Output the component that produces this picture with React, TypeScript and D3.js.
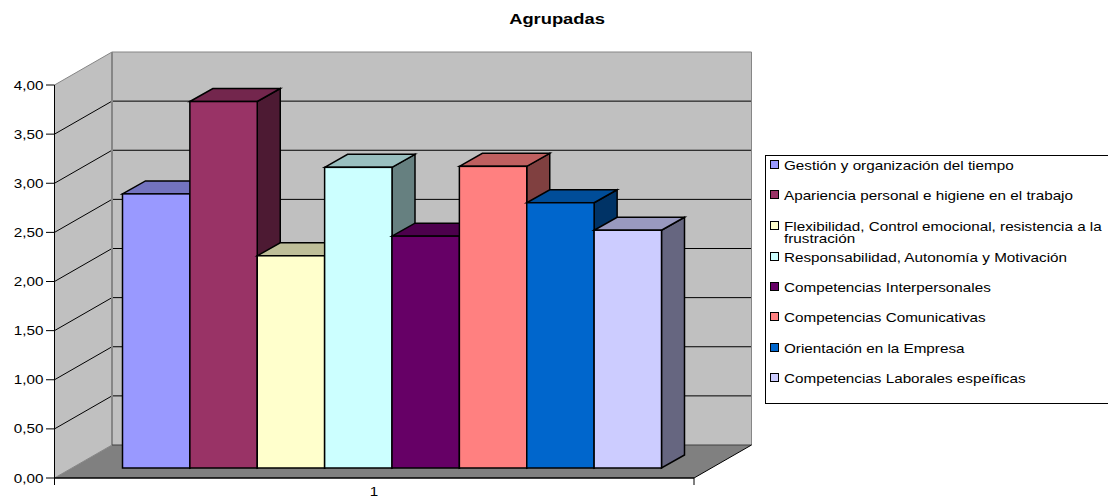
import React from "react";
import * as d3 from "d3";

const seriesNames = [
  "Gestión y organización del tiempo",
  "Apariencia personal e higiene en el trabajo",
  "Flexibilidad, Control emocional, resistencia a la|frustración",
  "Responsabilidad, Autonomía y Motivación",
  "Competencias Interpersonales",
  "Competencias Comunicativas",
  "Orientación en la Empresa",
  "Competencias Laborales espeíficas",
];
const seriesValues = [2.79, 3.73, 2.16, 3.06, 2.36, 3.07, 2.7, 2.42];
const seriesColors = ["#9999ff", "#993366", "#ffffcc", "#ccffff", "#660066", "#ff8080", "#0066cc", "#ccccff"];
const yTicks = [0, 0.5, 1, 1.5, 2, 2.5, 3, 3.5, 4];
const categoryLabel = "1";
const chartTitle = "Agrupadas";
const legendRows = [165, 195, 226, 257, 287, 317, 348, 378];

const FONT = "'Liberation Sans', Arial, sans-serif";
const WALL = "#c0c0c0";
const FLOOR = "#808080";
const EDGE = "#868686";

// Oblique projection: the plot box recedes up and to the right.
const frontLeft = 54.5;
const frontRight = 694;
const boxDx = 57.5;
const boxDy = -33;
const barDx = 23;
const barDy = -13;
const barBaseLift = 10;

const y = d3.scaleLinear().domain([0, 4]).range([478, 85]);
const x = d3.scaleBand<number>().domain(d3.range(seriesValues.length)).range([122.5, 661.5]);

const pts = (p: [number, number][]) => p.map((q) => q.join(",")).join(" ");
// Side and top faces are the base colour multiplied down, as in a spreadsheet 3-D column.
const shade = (c: string, k: number) => {
  const q = d3.rgb(c);
  return d3.rgb(q.r * k, q.g * k, q.b * k).formatHex();
};
const fmt = (v: number) => v.toFixed(2).replace(".", ",");

// Labels use a wide-set face: the glyphs are stretched horizontally about their anchor.
function Wide(props: { x: number; y: number; k?: number; size?: number; anchor?: string; bold?: boolean; children: string }) {
  const { x: px, y: py, k = 1.22, size = 12.5, anchor = "start", bold = false, children } = props;
  return (
    <text
      transform={`translate(${px},${py}) scale(${k},1)`}
      textAnchor={anchor}
      fontSize={size}
      fontWeight={bold ? "bold" : "normal"}
      fill="#000"
    >
      {children}
    </text>
  );
}

export default function App() {
  const y0 = y(0);
  const top = y(4);
  const backL = frontLeft + boxDx;
  const backR = frontRight + boxDx;
  return (
    <svg
      width={1108}
      height={498}
      style={{ position: "absolute", left: 0, top: 0, background: "#fff" }}
      fontFamily={FONT}
    >
      <Wide x={557} y={24} k={1.31} size={14} anchor="middle" bold>
        {chartTitle}
      </Wide>

      {/* walls and floor */}
      <polygon points={pts([[frontLeft, top], [backL, top + boxDy], [backL, y0 + boxDy], [frontLeft, y0]])} fill={WALL} />
      <rect x={backL} y={top + boxDy} width={backR - backL} height={y0 - top} fill={WALL} />
      <polygon points={pts([[frontLeft, y0], [frontRight, y0], [backR, y0 + boxDy], [backL, y0 + boxDy]])} fill={FLOOR} />

      {/* gridlines on the side and back walls */}
      {yTicks.slice(1, -1).map((t) => (
        <g key={t} stroke="#000" strokeWidth={1}>
          <line x1={frontLeft} y1={y(t)} x2={backL} y2={y(t) + boxDy} />
          <line x1={backL} y1={y(t) + boxDy} x2={backR} y2={y(t) + boxDy} />
        </g>
      ))}
      <g stroke={EDGE} strokeWidth={1} fill="none">
        <polyline points={pts([[frontLeft, top], [backL, top + boxDy], [backR, top + boxDy], [backR, y0 + boxDy]])} />
        <line x1={backL} y1={top + boxDy} x2={backL} y2={y0 + boxDy} strokeWidth={2} />
        <line x1={frontLeft} y1={y0} x2={backL} y2={y0 + boxDy} />
      </g>
      <line x1={backL} y1={y0 + boxDy} x2={backR} y2={y0 + boxDy} stroke="#404040" strokeWidth={1} />
      <line x1={frontRight} y1={y0} x2={backR} y2={y0 + boxDy} stroke="#000" strokeWidth={1} />

      {/* bars, drawn left to right so each one overlaps its neighbour's side */}
      {seriesValues.map((v, i) => {
        const l = x(i)!;
        const r = l + x.bandwidth();
        const t = y(v) - barBaseLift;
        const b = y0 - barBaseLift;
        const c = seriesColors[i];
        return (
          <g key={i} stroke="#000" strokeWidth={1.5} strokeLinejoin="miter">
            <polygon points={pts([[r, t], [r + barDx, t + barDy], [r + barDx, b + barDy], [r, b]])} fill={shade(c, 0.5)} />
            <polygon points={pts([[l, t], [l + barDx, t + barDy], [r + barDx, t + barDy], [r, t]])} fill={shade(c, 0.75)} />
            <rect x={l} y={t} width={r - l} height={b - t} fill={c} />
          </g>
        );
      })}

      {/* value axis */}
      <line x1={frontLeft} y1={top} x2={frontLeft} y2={y0 + 7} stroke="#000" />
      {yTicks.map((t) => (
        <g key={t}>
          <line x1={46} y1={y(t)} x2={frontLeft} y2={y(t)} stroke="#000" />
          <Wide x={43.5} y={y(t) + 4.5} anchor="end">
            {fmt(t)}
          </Wide>
        </g>
      ))}

      {/* category axis */}
      <line x1={frontLeft} y1={y0} x2={frontRight} y2={y0} stroke="#000" strokeWidth={1.5} />
      <line x1={frontRight} y1={y0} x2={frontRight} y2={y0 + 7} stroke="#000" />
      <Wide x={374} y={495.5} anchor="middle">
        {categoryLabel}
      </Wide>

      {/* legend */}
      <rect x={765.5} y={155.5} width={360} height={248} fill="#fff" stroke="#000" />
      {seriesNames.map((name, i) => {
        const rowY = legendRows[i];
        const lines = name.split("|");
        return (
          <g key={i}>
            <rect x={770.5} y={rowY - 4.5} width={8} height={8} fill={seriesColors[i]} stroke="#000" />
            {lines.map((line, j) => (
              <Wide key={j} x={784} y={rowY + 4.5 + j * 12.5}>
                {line}
              </Wide>
            ))}
          </g>
        );
      })}
    </svg>
  );
}
